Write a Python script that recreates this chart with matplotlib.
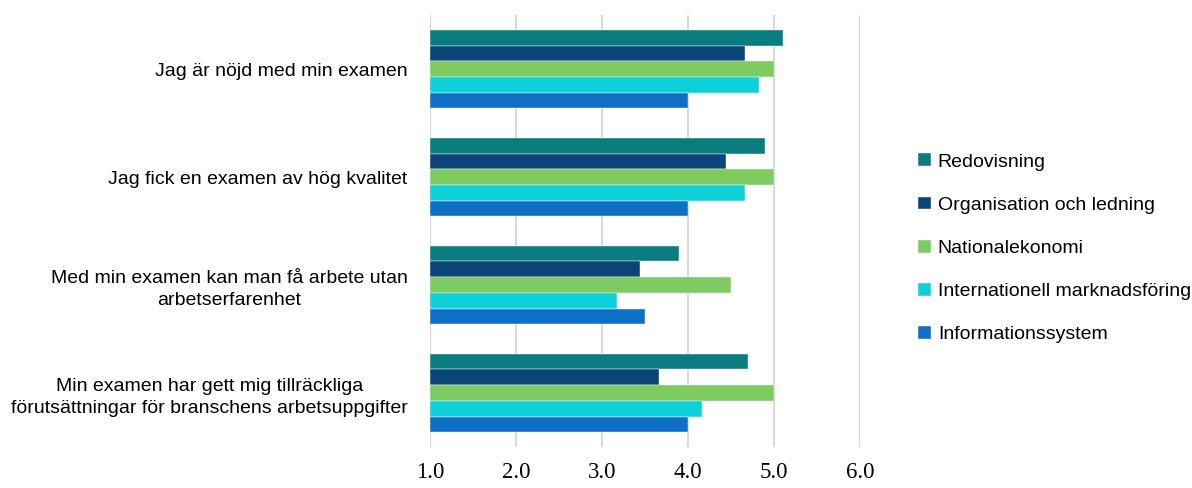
import numpy as np
import matplotlib
matplotlib.use('Agg')
import matplotlib.pyplot as plt

# statements (top to bottom)
categories = [
    "Jag är nöjd med min examen",
    "Jag fick en examen av hög kvalitet",
    "Med min examen kan man få arbete utan\narbetserfarenhet",
    "Min examen har gett mig tillräckliga\nförutsättningar för branschens arbetsuppgifter",
]

series_names = ["Redovisning", "Organisation och ledning", "Nationalekonomi",
                "Internationell marknadsföring", "Informationssystem"]

redovisning = [5.10, 4.90, 3.90, 4.70]
organisation = [4.66, 4.44, 3.44, 3.66]
nationalekonomi = [5.00, 5.00, 4.50, 5.00]
internationell = [4.83, 4.66, 3.17, 4.16]
informationssystem = [4.00, 4.00, 3.50, 4.00]

colors = ["#0a7b7f", "#0b4577", "#7ecb62", "#0dd0d9", "#0e6fc5"]
x_ticks = [1.0, 2.0, 3.0, 4.0, 5.0, 6.0]

all_series = [redovisning, organisation, nationalekonomi, internationell, informationssystem]

fig = plt.figure(figsize=(11.92, 4.88), dpi=100)
ax = fig.add_axes([0.3607, 0.084, 0.3608, 0.885])

ypos = np.arange(len(categories))
bar_h = 0.1455
n = len(all_series)
for i, (vals, name, c) in enumerate(zip(all_series, series_names, colors)):
    offs = (i - (n - 1) / 2) * bar_h
    # bars start at 1.0 (axis minimum)
    ax.barh(ypos + offs, np.array(vals) - 1.0, left=1.0, height=bar_h,
            color=c, label=name, edgecolor="white", linewidth=0.3, zorder=3)

ax.set_xlim(1.0, 6.0)
ax.set_ylim(len(categories) - 0.5, -0.5)
ax.set_xticks(x_ticks)
ax.set_xticklabels([f"{t:.1f}" for t in x_ticks], family="Liberation Serif", fontsize=16.5)
ax.set_yticks(ypos)
ax.set_yticklabels(categories, family="Liberation Sans", fontsize=14)
for lab in ax.get_yticklabels():
    lab.set_multialignment("center")
    lab.set_linespacing(1.35)

ax.tick_params(axis="x", length=0, pad=11)
ax.tick_params(axis="y", length=0, pad=16)
ax.grid(axis="x", color="#d9d9d9", linewidth=1.5, zorder=0)
ax.set_axisbelow(True)
for s in ax.spines.values():
    s.set_visible(False)

leg = ax.legend(loc="center left", bbox_to_anchor=(1.095, 0.46), frameon=False,
                prop={"family": "Liberation Sans", "size": 14},
                handlelength=0.65, handleheight=0.65, handletextpad=0.35,
                labelspacing=1.33)

fig.savefig("out.png", dpi=100)
